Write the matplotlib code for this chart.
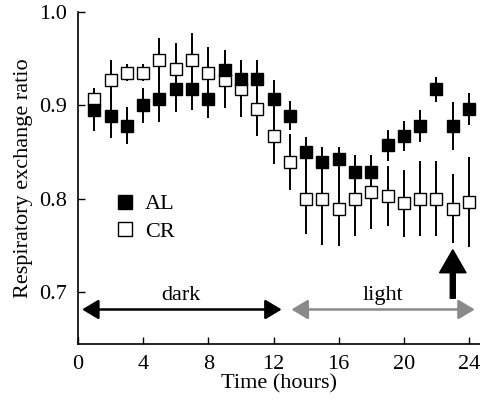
import matplotlib
matplotlib.use("Agg")
import matplotlib.pyplot as plt
from matplotlib.lines import Line2D

plt.rcParams['font.family'] = ['Liberation Serif', 'DejaVu Serif']

hours = list(range(1, 25))
al_mean = [0.895, 0.889, 0.878, 0.900, 0.907, 0.917, 0.917, 0.907, 0.938, 0.928, 0.928, 0.907,
           0.889, 0.850, 0.839, 0.842, 0.828, 0.828, 0.857, 0.867, 0.878, 0.917, 0.878, 0.896]
al_err = [0.023, 0.024, 0.020, 0.019, 0.025, 0.024, 0.022, 0.021, 0.021, 0.021, 0.021, 0.020,
          0.016, 0.016, 0.016, 0.013, 0.019, 0.019, 0.017, 0.016, 0.017, 0.013, 0.026, 0.017]
cr_mean = [0.907, 0.927, 0.935, 0.935, 0.949, 0.939, 0.949, 0.935, 0.927, 0.917, 0.896, 0.867,
           0.839, 0.800, 0.800, 0.789, 0.800, 0.807, 0.803, 0.795, 0.800, 0.800, 0.789, 0.796]
cr_err = [0.012, 0.021, 0.009, 0.009, 0.023, 0.028, 0.028, 0.028, 0.030, 0.030, 0.029, 0.030,
          0.030, 0.038, 0.050, 0.040, 0.040, 0.040, 0.032, 0.036, 0.040, 0.040, 0.037, 0.048]

x_ticks = [0, 4, 8, 12, 16, 20, 24]
y_ticks = [0.7, 0.8, 0.9, 1.0]
y_tick_labels = ['0.7', '0.8', '0.9', '1.0']

fig = plt.figure(figsize=(4.8, 4.0), dpi=100)
ax = fig.add_axes([78 / 480, 1 - 344 / 400, 1 - 78 / 480, (344 - 12) / 400])

# error bars first, then open squares, then filled squares on top
ax.errorbar(hours, cr_mean, yerr=cr_err, fmt='none', ecolor='black', elinewidth=1.4, capsize=0, zorder=2)
ax.errorbar(hours, al_mean, yerr=al_err, fmt='none', ecolor='black', elinewidth=1.4, capsize=0, zorder=2)
ax.plot(hours, cr_mean, linestyle='none', marker='s', markersize=8, markerfacecolor='white',
        markeredgecolor='black', markeredgewidth=1.0, zorder=3)
ax.plot(hours, al_mean, linestyle='none', marker='s', markersize=8, markerfacecolor='black',
        markeredgecolor='black', markeredgewidth=1.0, zorder=4)

# dark / light period arrows
arrow_style = '<|-|>,head_length=0.5,head_width=0.3'
ax.annotate('', xy=(0.25, 0.681), xytext=(12.5, 0.681),
            arrowprops=dict(arrowstyle=arrow_style, color='black', lw=1.8, mutation_scale=20,
                            shrinkA=0, shrinkB=0))
ax.annotate('', xy=(13.1, 0.681), xytext=(24.35, 0.681),
            arrowprops=dict(arrowstyle=arrow_style, color='#8a8a8a', lw=1.8, mutation_scale=20,
                            shrinkA=0, shrinkB=0))
ax.text(6.3, 0.686, 'dark', ha='center', va='bottom', fontsize=16)
ax.text(18.7, 0.686, 'light', ha='center', va='bottom', fontsize=16)

# marker arrow at hour 23
ax.annotate('', xy=(23, 0.745), xytext=(23, 0.693),
            arrowprops=dict(facecolor='black', edgecolor='black', width=3.6, headwidth=19,
                            headlength=16.5, shrink=0), zorder=6)

ax.set_xlim(0, 24.67)
ax.set_ylim(0.644, 1.0)
ax.set_xticks(x_ticks)
ax.set_yticks(y_ticks)
ax.set_yticklabels(y_tick_labels)
ax.tick_params(direction='in', length=5, width=1.0, labelsize=16, pad=8)
ax.spines['top'].set_visible(False)
ax.spines['right'].set_visible(False)
for s in ('left', 'bottom'):
    ax.spines[s].set_linewidth(1.2)

ax.set_xlabel('Time (hours)', fontsize=16, labelpad=0)
ax.set_ylabel('Respiratory exchange ratio', fontsize=16, labelpad=4)

handles = [
    Line2D([], [], linestyle='none', marker='s', markersize=10, markerfacecolor='black',
           markeredgecolor='black'),
    Line2D([], [], linestyle='none', marker='s', markersize=10, markerfacecolor='white',
           markeredgecolor='black'),
]
ax.legend(handles, ['AL', 'CR'], loc='upper left', bbox_to_anchor=(0.072, 0.479), frameon=False,
          fontsize=16, handlelength=0.8, handletextpad=0.5, labelspacing=0.3, borderaxespad=0)

fig.savefig('out.png', dpi=100)
